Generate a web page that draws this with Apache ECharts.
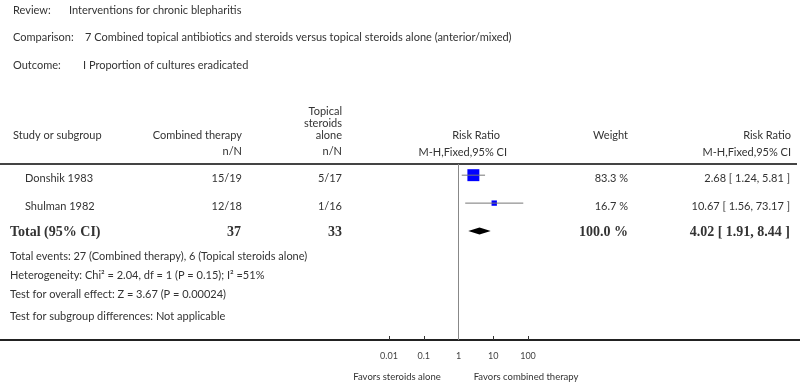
<!DOCTYPE html>
<html>
<head>
<meta charset="utf-8">
<script src="https://cdn.jsdelivr.net/npm/echarts@6/dist/echarts.min.js"></script>
<style>
html, body { margin: 0; padding: 0; background: #fff; }
#forest { width: 800px; height: 383px; }
</style>
</head>
<body>
<div id="forest"></div>
<script>
// study rows
const studies = ['Donshik 1983', 'Shulman 1982'];
const combinedNN = ['15/19', '12/18'];
const steroidsNN = ['5/17', '1/16'];
const riskRatio = [2.68, 10.67];
const ciLow = [1.24, 1.56];
const ciHigh = [5.81, 73.17];
const weights = [83.3, 16.7];

// pooled result
const totalN = [37, 33];
const totalWeight = 100.0;
const totalRR = [4.02, 1.91, 8.44];

const xTicks = ['0.01', '0.1', '1', '10', '100'];

const headerLines = [
	['Review:', 'Interventions for chronic blepharitis'],
	['Comparison:', '7 Combined topical antibiotics and steroids versus topical steroids alone (anterior/mixed)'],
	['Outcome:', 'I Proportion of cultures eradicated']
];
const footerLines = [
	'Total events: 27 (Combined therapy), 6 (Topical steroids alone)',
	'Heterogeneity: Chi\u00b2 = 2.04, df = 1 (P = 0.15); I\u00b2 =51%',
	'Test for overall effect: Z = 3.67 (P = 0.00024)',
	'Test for subgroup differences: Not applicable'
];

const FONT = '11px Lato';
const SMALL = '9.5px Lato';
const BOLD = 'bold 14px "Liberation Serif"';
const INK = '#333';

const txt = (text, x, y, align, font) => ({
	type: 'text',
	x: x,
	y: y,
	style: { text: text, font: font || FONT, fill: INK, align: align || 'left', verticalAlign: 'middle' }
});

const ciText = (r, l, h) => `${r.toFixed(2)} [ ${l.toFixed(2)}, ${h.toFixed(2)} ]`;

let forest = echarts.init(document.getElementById('forest'));

let graphics = [];
headerLines.forEach((h, i) => {
	graphics.push(txt(h[0], 13, [10, 37, 65][i], 'left'));
	graphics.push(txt(h[1], [69, 85, 83][i], [10, 37, 65][i], 'left'));
});
graphics.push(
	txt('Study or subgroup', 13, 135),
	txt('Combined therapy', 242, 135, 'right'),
	txt('Topical', 342, 111, 'right'),
	txt('steroids', 342, 123, 'right'),
	txt('alone', 342, 135, 'right'),
	txt('n/N', 242, 151, 'right'),
	txt('n/N', 342, 151, 'right'),
	txt('Risk Ratio', 500, 135, 'right'),
	txt('M-H,Fixed,95% CI', 507, 152, 'right'),
	txt('Weight', 628, 135, 'right'),
	txt('Risk Ratio', 791, 135, 'right'),
	txt('M-H,Fixed,95% CI', 791, 152, 'right'),
	{ type: 'line', shape: { x1: 0, y1: 164, x2: 797, y2: 164 }, style: { stroke: '#444', lineWidth: 2 } },
	{ type: 'line', shape: { x1: 0, y1: 340, x2: 800, y2: 340 }, style: { stroke: '#222', lineWidth: 2 } },
	txt('Favors steroids alone', 397, 377, 'center', SMALL),
	txt('Favors combined therapy', 526, 377, 'center', SMALL)
);
footerLines.forEach((f, i) => {
	graphics.push(txt(f, 10, [256, 275, 294, 316][i]));
});

let studyData = studies.map((s, i) => [riskRatio[i], ciLow[i], ciHigh[i], i]);

let forestOption = {
	animation: false,
	grid: { left: 389, width: 139, top: 164, bottom: 43 },
	xAxis: {
		type: 'log',
		logBase: 10,
		min: 0.01,
		max: 100,
		position: 'bottom',
		splitLine: { show: false },
		axisLine: { show: true, onZero: false, lineStyle: { color: '#222', width: 2 } },
		axisTick: { show: true, inside: true, length: 4, lineStyle: { color: '#333' } },
		axisLabel: {
			margin: 12,
			fontSize: 9,
			fontFamily: 'Lato',
			color: '#444',
			formatter: v => xTicks[Math.round(Math.log10(v)) + 2]
		}
	},
	yAxis: { type: 'value', min: -0.4, max: 5.9, inverse: true, show: false },
	graphic: graphics,
	series: [{
		type: 'custom',
		clip: false,
		data: studyData,
		renderItem: (params, api) => {
			const i = params.dataIndex;
			const row = api.value(3);
			const c = api.coord([api.value(0), row]);
			const l = api.coord([api.value(1), row]);
			const h = api.coord([api.value(2), row]);
			const s = 13.1 * Math.sqrt(weights[i] / 100);
			const ty = c[1] + 3;
			return {
				type: 'group',
				children: [
					{ type: 'rect', shape: { x: c[0] - s / 2, y: c[1] - s / 2, width: s, height: s }, style: { fill: '#0000ff' } },
					{ type: 'line', shape: { x1: l[0], y1: c[1], x2: h[0], y2: c[1] }, style: { stroke: '#777', lineWidth: 1 } },
					txt(studies[i], 25, ty),
					txt(combinedNN[i], 242, ty, 'right'),
					txt(steroidsNN[i], 342, ty, 'right'),
					txt(weights[i].toFixed(1) + ' %', 628, ty, 'right'),
					txt(ciText(riskRatio[i], ciLow[i], ciHigh[i]), 790, ty, 'right')
				]
			};
		}
	}, {
		type: 'custom',
		clip: false,
		data: [[totalRR[0], totalRR[1], totalRR[2], 2]],
		renderItem: (params, api) => {
			const row = api.value(3);
			const c = api.coord([api.value(0), row]);
			const l = api.coord([api.value(1), row]);
			const h = api.coord([api.value(2), row]);
			const ty = c[1] + 1;
			return {
				type: 'group',
				children: [
					{ type: 'polygon', shape: { points: [[l[0], c[1]], [c[0], c[1] - 3.5], [h[0], c[1]], [c[0], c[1] + 3.5]] }, style: { fill: '#000' } },
					txt('Total (95% CI)', 10, ty, 'left', BOLD),
					txt(String(totalN[0]), 241, ty, 'right', BOLD),
					txt(String(totalN[1]), 342, ty, 'right', BOLD),
					txt(totalWeight.toFixed(1) + ' %', 628, ty, 'right', BOLD),
					txt(ciText(totalRR[0], totalRR[1], totalRR[2]), 790, ty, 'right', BOLD)
				]
			};
		},
		markLine: {
			silent: true,
			symbol: ['none', 'none'],
			label: { show: false },
			lineStyle: { color: '#888', width: 1, type: 'solid' },
			data: [{ xAxis: 1 }]
		}
	}]
};
forest.setOption(forestOption);
</script>
</body>
</html>
